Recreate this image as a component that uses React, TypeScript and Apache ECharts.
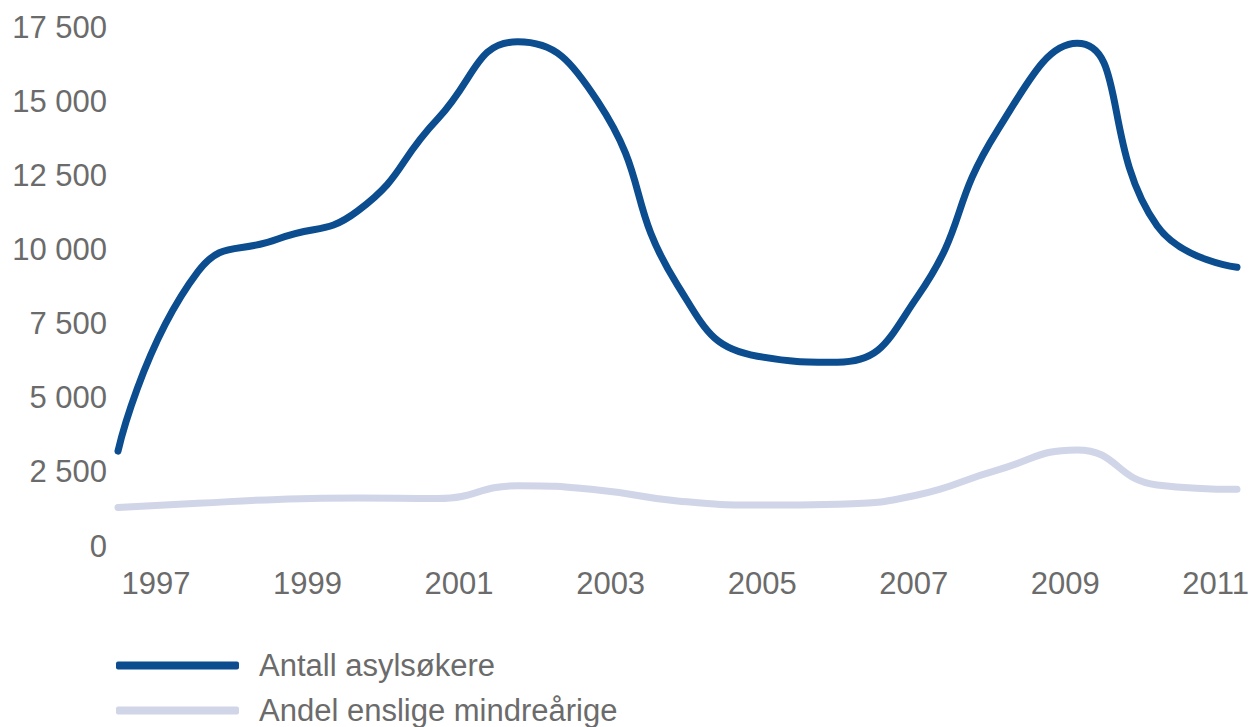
import React, { useEffect, useRef } from "react";
import * as echarts from "echarts";

const years = ["1997", "1998", "1999", "2000", "2001", "2002", "2003", "2004", "2005", "2006", "2007", "2008", "2009", "2010", "2011"];
const asylumSeekers = [3200, 9250, 10350, 11300, 14400, 17000, 15000, 8800, 6400, 6200, 8400, 14000, 16950, 10800, 9400];
const unaccompaniedMinors = [1300, 1440, 1570, 1620, 1600, 2030, 1890, 1520, 1380, 1410, 1720, 2560, 3240, 2060, 1910];
const seriesNames = ["Antall asylsøkere", "Andel enslige mindreårige"];
const yMin = 0;
const yMax = 17500;
const yInterval = 2500;

export default function App() {
  const ref = useRef<HTMLDivElement>(null);
  useEffect(() => {
    const chart = echarts.init(ref.current!, undefined, { renderer: "svg" });
    const font = '"Liberation Sans", Arial, Helvetica, sans-serif';
    const gray = "#6b6b6b";
    const fmt = (v: number) => String(v).replace(/\B(?=(\d{3})+(?!\d))/g, " ");
    chart.setOption({
      animation: false,
      backgroundColor: "#ffffff",
      textStyle: { fontFamily: font },
      grid: [
        { left: 118, right: 15, top: 27, bottom: 181 },
        { left: 121.5, right: 68, top: 27, bottom: 181 },
      ],
      xAxis: [
        {
          type: "category",
          data: years,
          boundaryGap: false,
          gridIndex: 0,
          axisLine: { show: false },
          axisTick: { show: false },
          axisLabel: { show: false },
          splitLine: { show: false },
        },
        {
          type: "category",
          data: years,
          boundaryGap: false,
          gridIndex: 1,
          axisLine: { show: false },
          axisTick: { show: false },
          splitLine: { show: false },
          axisLabel: {
            interval: 1,
            align: "left",
            margin: 22,
            color: gray,
            fontSize: 31,
            fontFamily: font,
          },
        },
      ],
      yAxis: [
        {
          type: "value",
          gridIndex: 0,
          min: yMin,
          max: yMax,
          interval: yInterval,
          axisLine: { show: false },
          axisTick: { show: false },
          splitLine: { show: false },
          axisLabel: {
            formatter: fmt,
            margin: 11,
            color: gray,
            fontSize: 31,
            fontFamily: font,
          },
        },
        { type: "value", gridIndex: 1, min: yMin, max: yMax, show: false },
      ],
      legend: {
        orient: "vertical",
        left: 116,
        top: 650,
        height: 120,
        padding: 0,
        itemWidth: 123,
        itemHeight: 8,
        itemGap: 14,
        icon: "roundRect",
        selectedMode: false,
        data: seriesNames,
        textStyle: { fontSize: 31, color: gray, fontFamily: font, padding: [0, 0, 0, 15] },
      },
      series: [
        {
          name: seriesNames[0],
          type: "line",
          xAxisIndex: 0,
          yAxisIndex: 0,
          data: asylumSeekers,
          smooth: true,
          showSymbol: false,
          color: "#0b4d8f",
          lineStyle: { width: 7, color: "#0b4d8f", cap: "round", join: "round" },
          emphasis: { disabled: true },
          z: 3,
        },
        {
          name: seriesNames[1],
          type: "line",
          xAxisIndex: 0,
          yAxisIndex: 0,
          data: unaccompaniedMinors,
          smooth: true,
          showSymbol: false,
          color: "#d0d5e8",
          lineStyle: { width: 7, color: "#d0d5e8", cap: "round", join: "round" },
          emphasis: { disabled: true },
          z: 2,
        },
      ],
    });
    return () => chart.dispose();
  }, []);
  return (
    <div
      ref={ref}
      style={{ position: "fixed", left: 0, top: 0, width: 1252, height: 727, background: "#fff" }}
    />
  );
}
